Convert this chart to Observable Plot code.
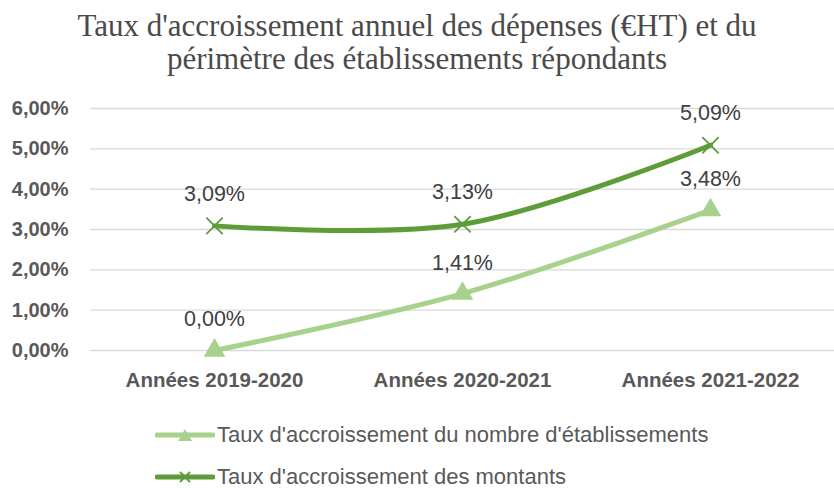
<!DOCTYPE html>
<html><head><meta charset="utf-8">
<script src="https://cdn.jsdelivr.net/npm/d3@7"></script>
<script src="https://cdn.jsdelivr.net/npm/@observablehq/plot@0.6"></script>
<style>
body{margin:0;background:#fff;width:834px;height:488px;overflow:hidden;font-family:"Liberation Sans",sans-serif;position:relative;}
#title{height:90px;text-align:center;font-family:"Liberation Serif",serif;font-size:31px;color:#4a4a4a;line-height:33px;padding-top:9px;box-sizing:border-box;}
#legend{position:absolute;left:155px;top:414px;font-size:22px;color:#595959;}
.item{display:flex;align-items:center;height:42px;}
.item span{line-height:1;}
.item svg{margin-right:2px;}
</style></head><body>
<div id="title">Taux d'accroissement annuel des dépenses (€HT) et du<br>périmètre des établissements répondants</div>
<div id="chart"></div>
<div id="legend"></div>
<script>
const categories = ["Années 2019-2020", "Années 2020-2021", "Années 2021-2022"];
const etablissements = [0.00, 1.41, 3.48];
const montants = [3.09, 3.13, 5.09];
const yTicks = [0, 1, 2, 3, 4, 5, 6];
const seriesNames = ["Taux d'accroissement du nombre d'établissements", "Taux d'accroissement des montants"];

const lightGreen = "#a9d18e";
const darkGreen = "#5e9c3a";
const fr = v => v.toFixed(2).replace(".", ",") + "%";

const dEtab = categories.map((c, i) => ({cat: c, v: etablissements[i]}));
const dMont = categories.map((c, i) => ({cat: c, v: montants[i]}));

const chart = Plot.plot({
  width: 834, height: 310,
  marginLeft: 90, marginRight: 0, marginTop: 18, marginBottom: 50,
  style: {fontFamily: "Liberation Sans, sans-serif", background: "#fff"},
  x: {type: "point", domain: categories, padding: 0.5, label: null},
  y: {domain: [0, 6], label: null},
  marks: [
    Plot.ruleY(yTicks, {stroke: "#d9d9d9", strokeWidth: 1.3}),
    Plot.axisY({ticks: yTicks, tickFormat: fr, tickSize: 0, tickPadding: 22, fontSize: 20, fontWeight: "bold", fill: "#595959", label: null}),
    Plot.axisX({tickSize: 0, tickPadding: 22, fontSize: 20.5, fontWeight: "bold", fill: "#595959", label: null}),
    Plot.line(dEtab, {x: "cat", y: "v", stroke: lightGreen, strokeWidth: 5, curve: "catmull-rom"}),
    Plot.line(dMont, {x: "cat", y: "v", stroke: darkGreen, strokeWidth: 5, curve: "catmull-rom"}),
    Plot.dot(dEtab, {x: "cat", y: "v", symbol: "triangle", r: 8, fill: lightGreen, stroke: "none"}),
    Plot.dot(dMont, {x: "cat", y: "v", symbol: "times", r: 7.5, stroke: darkGreen, strokeWidth: 1.8}),
    Plot.text(dEtab, {x: "cat", y: "v", text: d => fr(d.v), dy: -31, fontSize: 21.5, fill: "#404040"}),
    Plot.text(dMont, {x: "cat", y: "v", text: d => fr(d.v), dy: -32, fontSize: 21.5, fill: "#404040"})
  ]
});
document.getElementById("chart").appendChild(chart);

const legend = document.getElementById("legend");
const colors = [lightGreen, darkGreen];
seriesNames.forEach((name, i) => {
  const div = document.createElement("div");
  div.className = "item";
  const mk = i === 0
    ? `<path d="M30,4 L37,16 L23,16 Z" fill="${colors[i]}"/>`
    : `<path d="M25,5 L35,15 M35,5 L25,15" stroke="${colors[i]}" stroke-width="1.8"/>`;
  div.innerHTML = `<svg width="60" height="20"><line x1="2" y1="10" x2="58" y2="10" stroke="${colors[i]}" stroke-width="5" stroke-linecap="round"/>${mk}</svg><span>${name}</span>`;
  legend.appendChild(div);
});
</script>
</body></html>
